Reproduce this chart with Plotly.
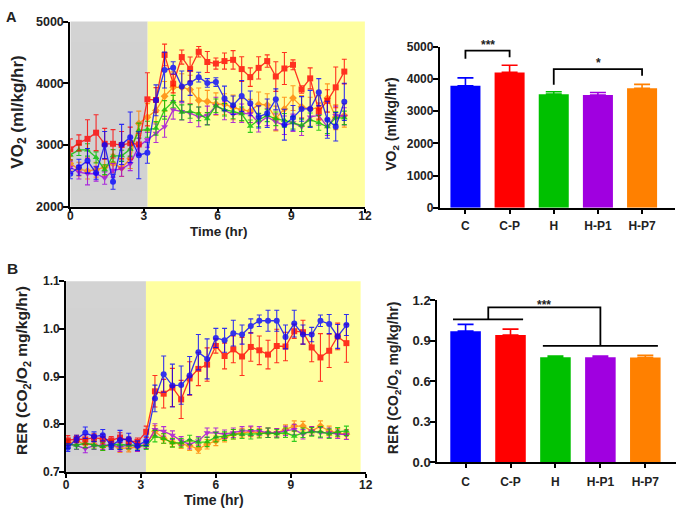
import plotly.graph_objects as go

groups = ["C", "C-P", "H", "H-P1", "H-P7"]
group_colors = ["#0000FF", "#FF0000", "#00C000", "#A000E0", "#FF8000"]
group_symbols = ["circle", "square", "triangle-up", "triangle-down", "diamond"]

time_a = [0.0, 0.35, 0.7, 1.05, 1.4, 1.74, 2.09, 2.44, 2.79, 3.14, 3.49, 3.84, 4.19, 4.54, 4.88, 5.23,
          5.58, 5.93, 6.28, 6.63, 6.98, 7.33, 7.67, 8.02, 8.37, 8.72, 9.07, 9.42, 9.77, 10.12, 10.47, 10.81, 11.16]
time_b = [0.07, 0.42, 0.77, 1.12, 1.47, 1.81, 2.16, 2.51, 2.86, 3.21, 3.56, 3.91, 4.26, 4.61, 4.95, 5.3,
          5.65, 6.0, 6.35, 6.7, 7.05, 7.4, 7.74, 8.09, 8.44, 8.79, 9.14, 9.49, 9.84, 10.19, 10.54, 10.88, 11.23]

# VO2 time course (ml/kg/hr)
vo2_C = [2535, 2640, 2745, 2545, 3000, 2405, 3010, 3125, 2835, 2875, 3725, 4215, 4250, 3950, 4005, 4100,
         4005, 4020, 3755, 3645, 3795, 3675, 3455, 3515, 3740, 3330, 3440, 3585, 3585, 3855, 3410, 3295, 3700]
vo2_C_err = [80, 130, 200, 100, 220, 120, 325, 410, 380, 170, 250, 290, 100, 250, 200, 80,
             70, 70, 200, 150, 250, 200, 180, 230, 170, 250, 200, 200, 300, 220, 300, 230, 300]
vo2_CP = [2930, 3035, 3100, 3200, 3020, 3020, 3000, 3030, 3010, 3740, 3730, 4460, 3995, 4425, 4230, 4510,
          4345, 4320, 4360, 4380, 4230, 4100, 4250, 4360, 4110, 4240, 4300, 3900, 4080, 3550, 3715, 3935, 4190]
vo2_CP_err = [170, 130, 310, 290, 250, 230, 220, 260, 180, 430, 200, 175, 150, 115, 195, 85,
              170, 90, 130, 150, 200, 150, 180, 100, 240, 260, 80, 60, 170, 130, 180, 330, 200]
vo2_H = [2840, 2920, 2920, 2800, 2600, 2825, 2825, 2930, 3235, 3255, 3270, 3570, 3705, 3530, 3545, 3505,
         3425, 3635, 3570, 3545, 3505, 3305, 3405, 3480, 3425, 3400, 3360, 3320, 3410, 3360, 3295, 3440, 3440]
vo2_H_err = [80, 90, 100, 90, 80, 100, 90, 110, 120, 130, 110, 150, 100, 120, 110, 110,
             100, 110, 100, 120, 110, 100, 110, 100, 110, 110, 100, 100, 110, 120, 110, 100, 110]
vo2_HP1 = [2640, 2560, 2535, 2535, 2465, 2590, 2615, 2695, 2980, 3085, 3190, 3295, 3570, 3545, 3515, 3455,
           3480, 3635, 3560, 3495, 3515, 3505, 3360, 3455, 3375, 3320, 3360, 3295, 3455, 3480, 3295, 3480, 3465]
vo2_HP1_err = [100, 110, 180, 120, 100, 110, 120, 110, 130, 120, 150, 170, 150, 140, 150, 160,
               150, 140, 150, 130, 150, 140, 150, 140, 130, 150, 140, 140, 150, 160, 140, 150, 140]
vo2_HP7 = [2700, 2610, 2580, 2600, 2640, 2700, 2630, 2780, 3350, 3450, 3560, 3790, 3935, 3935, 3900, 3725,
           3705, 3665, 3660, 3610, 3570, 3550, 3660, 3650, 3430, 3585, 3760, 3620, 3585, 3600, 3760, 3450, 3480]
vo2_HP7_err = [120, 110, 130, 120, 140, 150, 140, 160, 200, 220, 200, 240, 250, 220, 230, 200,
               180, 180, 170, 200, 180, 190, 200, 180, 200, 190, 200, 180, 190, 200, 230, 200, 190]

# RER time course
rer_C = [0.751, 0.769, 0.782, 0.774, 0.777, 0.755, 0.767, 0.769, 0.755, 0.765, 0.854, 0.905, 0.881, 0.882,
         0.902, 0.951, 0.937, 0.981, 0.976, 0.991, 0.988, 1.006, 1.017, 1.017, 1.017, 0.983, 1.011, 0.988,
         0.988, 1.017, 1.010, 0.984, 1.008]
rer_C_err = [0.008, 0.008, 0.012, 0.010, 0.012, 0.008, 0.020, 0.012, 0.010, 0.010, 0.028, 0.038, 0.045,
             0.040, 0.040, 0.037, 0.042, 0.020, 0.025, 0.027, 0.020, 0.015, 0.012, 0.022, 0.022, 0.025,
             0.028, 0.020, 0.015, 0.012, 0.020, 0.025, 0.022]
rer_CP = [0.766, 0.769, 0.768, 0.772, 0.769, 0.766, 0.772, 0.765, 0.763, 0.784, 0.869, 0.864, 0.877, 0.852,
          0.896, 0.916, 0.925, 0.964, 0.943, 0.957, 0.942, 0.962, 0.955, 0.946, 0.964, 0.963, 0.995, 0.993,
          0.961, 0.940, 0.954, 0.984, 0.970]
rer_CP_err = [0.010, 0.008, 0.010, 0.008, 0.010, 0.008, 0.010, 0.008, 0.008, 0.012, 0.033, 0.030, 0.040,
              0.040, 0.035, 0.035, 0.035, 0.015, 0.027, 0.028, 0.040, 0.030, 0.030, 0.030, 0.035, 0.030,
              0.015, 0.025, 0.030, 0.050, 0.035, 0.028, 0.040]
rer_H = [0.758, 0.756, 0.760, 0.756, 0.753, 0.758, 0.757, 0.756, 0.755, 0.755, 0.775, 0.770, 0.761, 0.761,
         0.767, 0.762, 0.763, 0.773, 0.775, 0.779, 0.779, 0.779, 0.780, 0.782, 0.780, 0.782, 0.775, 0.782,
         0.784, 0.784, 0.780, 0.784, 0.786]
rer_HP1 = [0.758, 0.755, 0.749, 0.755, 0.755, 0.757, 0.752, 0.757, 0.752, 0.757, 0.789, 0.785, 0.777, 0.765,
           0.758, 0.765, 0.782, 0.782, 0.779, 0.782, 0.786, 0.786, 0.786, 0.782, 0.782, 0.786, 0.789, 0.779,
           0.786, 0.782, 0.782, 0.779, 0.778]
rer_HP7 = [0.760, 0.765, 0.758, 0.758, 0.753, 0.755, 0.750, 0.750, 0.752, 0.757, 0.785, 0.770, 0.762, 0.758,
           0.755, 0.748, 0.758, 0.765, 0.772, 0.779, 0.782, 0.784, 0.782, 0.782, 0.782, 0.789, 0.796, 0.796,
           0.786, 0.796, 0.786, 0.782, 0.779]
rer_low_err = [0.009, 0.008, 0.009, 0.008, 0.008, 0.008, 0.009, 0.008, 0.009, 0.008, 0.012, 0.010, 0.009,
               0.009, 0.010, 0.009, 0.010, 0.010, 0.009, 0.010, 0.009, 0.010, 0.009, 0.010, 0.009, 0.010,
               0.011, 0.010, 0.009, 0.011, 0.010, 0.009, 0.010]

# Averages (bar charts)
vo2_bar = [3790, 4205, 3530, 3500, 3710]
vo2_bar_err = [245, 222, 72, 80, 122]
rer_bar = [0.970, 0.942, 0.777, 0.777, 0.775]
rer_bar_err = [0.050, 0.043, 0.009, 0.009, 0.016]

W, H = 685, 520
FONT = "Liberation Sans, Arial, sans-serif"


def px(x):
    return x / W


def py(y):
    return 1 - y / H


fig = go.Figure()

vo2_series = [(vo2_HP7, vo2_HP7_err, 4), (vo2_HP1, vo2_HP1_err, 3), (vo2_H, vo2_H_err, 2),
              (vo2_CP, vo2_CP_err, 1), (vo2_C, vo2_C_err, 0)]
for vals, errs, gi in vo2_series:
    fig.add_trace(go.Scatter(
        x=time_a, y=vals, xaxis="x", yaxis="y", mode="lines+markers",
        line=dict(color=group_colors[gi], width=1.3),
        marker=dict(symbol=group_symbols[gi], size=6, color=group_colors[gi]),
        error_y=dict(type="data", array=errs, color=group_colors[gi], thickness=1.1, width=2.5),
        opacity=0.8, showlegend=False, name=groups[gi]))

rer_series = [(rer_HP7, rer_low_err, 4), (rer_HP1, rer_low_err, 3), (rer_H, rer_low_err, 2),
              (rer_CP, rer_CP_err, 1), (rer_C, rer_C_err, 0)]
for vals, errs, gi in rer_series:
    fig.add_trace(go.Scatter(
        x=time_b, y=vals, xaxis="x3", yaxis="y3", mode="lines+markers",
        line=dict(color=group_colors[gi], width=1.3),
        marker=dict(symbol=group_symbols[gi], size=6, color=group_colors[gi]),
        error_y=dict(type="data", array=errs, color=group_colors[gi], thickness=1.1, width=2.5),
        opacity=0.8, showlegend=False, name=groups[gi]))

for i, g in enumerate(groups):
    fig.add_trace(go.Bar(
        x=[i], y=[vo2_bar[i]], xaxis="x2", yaxis="y2", width=0.68,
        marker=dict(color=group_colors[i], line=dict(color=group_colors[i], width=0)),
        error_y=dict(type="data", array=[vo2_bar_err[i]], arrayminus=[0], symmetric=False,
                     color=group_colors[i], thickness=1.6, width=8),
        showlegend=False, name=g))
    fig.add_trace(go.Bar(
        x=[i], y=[rer_bar[i]], xaxis="x4", yaxis="y4", width=0.68,
        marker=dict(color=group_colors[i], line=dict(color=group_colors[i], width=0)),
        error_y=dict(type="data", array=[rer_bar_err[i]], arrayminus=[0], symmetric=False,
                     color=group_colors[i], thickness=1.6, width=8),
        showlegend=False, name=g))


def axis(size=12, ticklen=5, standoff=0, **kw):
    d = dict(showline=True, linecolor="black", linewidth=2, ticks="outside", ticklen=ticklen,
             tickwidth=2, tickcolor="black", showgrid=False, zeroline=False, ticklabelstandoff=standoff,
             tickfont=dict(family=FONT, size=size, color="#222", weight="bold"))
    d.update(kw)
    return d


fig.update_layout(
    autosize=True, margin=dict(l=0, r=0, t=0, b=0),
    paper_bgcolor="white", plot_bgcolor="white",
    font=dict(family=FONT, color="#222"),
    xaxis=axis(12, 4, -7, domain=[px(68.3), px(367.3)], range=[0, 12], tickvals=[0, 3, 6, 9, 12], anchor="y"),
    yaxis=axis(12.5, 5, -3, domain=[py(205.7), py(15)], range=[2000, 5000],
               tickvals=[2000, 3000, 4000, 5000], anchor="x"),
    xaxis2=axis(12, 4, 2, domain=[px(443.3), px(681.7)], range=[-0.58, 4.74], tickvals=[0, 1, 2, 3, 4],
                ticktext=groups, anchor="y2"),
    yaxis2=axis(12, 5, -3, domain=[py(206.7), py(41)], range=[0, 5000],
                tickvals=[0, 1000, 2000, 3000, 4000, 5000], anchor="x2"),
    xaxis3=axis(12, 4, -3, domain=[px(64), px(368)], range=[0, 12], tickvals=[0, 3, 6, 9, 12], anchor="y3"),
    yaxis3=axis(12, 5, -3, domain=[py(478.7), py(282.3)], range=[0.7, 1.1],
                tickvals=[0.7, 0.8, 0.9, 1.0, 1.1], tickformat=".1f", anchor="x3"),
    xaxis4=axis(12, 4, 3, domain=[px(440.7), px(683.3)], range=[-0.63, 4.69], tickvals=[0, 1, 2, 3, 4],
                ticktext=groups, anchor="y4"),
    yaxis4=axis(13, 5, -3, domain=[py(469), py(301.7)], range=[0, 1.2],
                tickvals=[0, 0.3, 0.6, 0.9, 1.2], tickformat=".1f", anchor="x4"),
)

shapes = [
    dict(type="rect", xref="x", yref="y domain", x0=0, x1=3.15, y0=0, y1=1,
         fillcolor="#D3D3D3", line=dict(width=0), layer="below"),
    dict(type="rect", xref="x", yref="y domain", x0=3.15, x1=12, y0=0, y1=1,
         fillcolor="#FFFFA0", line=dict(width=0), layer="below"),
    dict(type="rect", xref="x3", yref="y3 domain", x0=0, x1=3.2, y0=0, y1=1,
         fillcolor="#D3D3D3", line=dict(width=0), layer="below"),
    dict(type="rect", xref="x3", yref="y3 domain", x0=3.2, x1=11.8, y0=0, y1=1,
         fillcolor="#FFFFA0", line=dict(width=0), layer="below"),
    # significance brackets, panel A bars
    dict(type="path", xref="x2", yref="y2", path="M 0,4629 L 0,4879 L 1,4879 L 1,4677",
         line=dict(color="black", width=1.8)),
    dict(type="path", xref="x2", yref="y2", path="M 2,3823 L 2,4306 L 4,4306 L 4,4104",
         line=dict(color="black", width=1.8)),
    # significance brackets, panel B bars
    dict(type="line", xref="x4", yref="y4", x0=-0.28, x1=1.28, y0=1.0566, y1=1.0566,
         line=dict(color="black", width=1.8)),
    dict(type="path", xref="x4", yref="y4", path="M 0.505,1.0566 L 0.505,1.1457 L 3.0,1.1457 L 3.0,0.8607",
         line=dict(color="black", width=1.8)),
    dict(type="line", xref="x4", yref="y4", x0=1.72, x1=4.28, y0=0.8607, y1=0.8607,
         line=dict(color="black", width=1.8)),
]
fig.update_layout(shapes=shapes)

bold = dict(family=FONT, color="#222", weight="bold")
ann = [
    dict(text="A", x=px(8.5), y=py(10), font=dict(size=14.5, **bold)),
    dict(text="B", x=px(10), y=py(269), font=dict(size=15.5, **bold)),
    dict(text="VO<sub>2</sub> (ml/kg/hr)", x=px(16), y=py(108), textangle=-90, font=dict(size=17, **bold)),
    dict(text="Time (hr)", x=px(219), y=py(231), font=dict(size=13.5, **bold)),
    dict(text="RER (CO<sub>2</sub>/O<sub>2</sub> mg/kg/hr)", x=px(20), y=py(374), textangle=-90,
         font=dict(size=15.5, **bold)),
    dict(text="Time (hr)", x=px(214), y=py(508), font=dict(size=14, **bold)),
    dict(text="VO<sub>2</sub> (ml/kg/hr)", x=px(394), y=py(121), textangle=-90, font=dict(size=14, **bold)),
    dict(text="RER (CO<sub>2</sub>/O<sub>2</sub> mg/kg/hr)", x=px(397), y=py(382), textangle=-90,
         font=dict(size=14, **bold)),
    dict(text="***", x=px(492.5), y=py(39), font=dict(size=12, **bold)),
    dict(text="*", x=px(604), y=py(58), font=dict(size=12, **bold)),
    dict(text="***", x=px(549.3), y=py(306.5), font=dict(size=12, **bold)),
]
for a in ann:
    a.update(xref="paper", yref="paper", showarrow=False, xanchor="center", yanchor="middle")
fig.update_layout(annotations=ann)

fig.write_html("out.html", default_width="100vw", default_height="100vh",
               config={"displayModeBar": False, "responsive": False},
               post_script="document.body.style.margin='0';document.body.style.padding='0';"
                           "document.documentElement.style.overflow='hidden';"
                           "document.body.style.overflow='hidden';")
